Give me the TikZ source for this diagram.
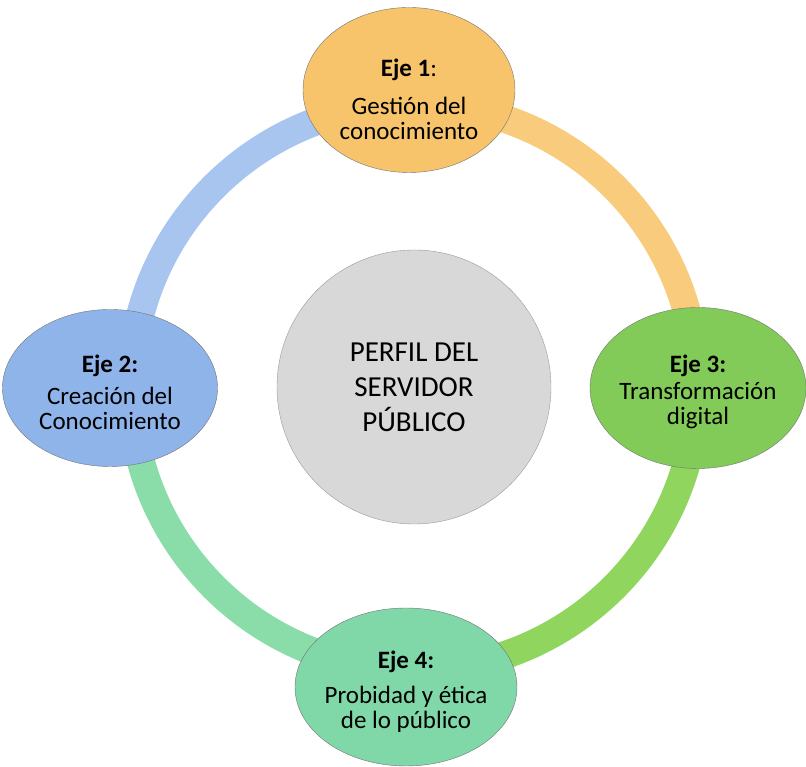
\documentclass[tikz,border=0pt]{standalone}
\usepackage{fontspec}
\setmainfont{Carlito}
\usetikzlibrary{shapes.geometric}
\usetikzlibrary{positioning}

\definecolor{ejeOrange}{HTML}{F7C46C}
\definecolor{ejeBlue}{HTML}{8FB4EA}
\definecolor{ejeGreen}{HTML}{82CB58}
\definecolor{ejeMint}{HTML}{80D8A9}
\definecolor{hubGrey}{HTML}{D9D8D8}
\definecolor{arcOrange}{HTML}{F8CC7C}
\definecolor{arcBlue}{HTML}{A8C5EF}
\definecolor{arcGreen}{HTML}{90D65E}
\definecolor{arcMint}{HTML}{8ADDA8}

\tikzset {
  % thick coloured band of the ring
  ring path/.style = {
    line width = 28pt
  },
  % one axis of the profile
  eje node/.style = {
    ellipse,
    draw = black!55,
    inner xsep = -25pt,
    inner ysep = 0,
    align = center,
    text = black,
    font = \fontsize{25}{25}\selectfont
  },
  % centre of the ring
  hub node/.style = {
    circle,
    draw = black!40,
    fill = hubGrey,
    inner sep = 0,
    minimum size = 274pt,
    align = center,
    text = black,
    font = \fontsize{29}{35}\selectfont
  }
}

\newcommand{\ejehead}[1]{\textbf{Eje #1}}

\begin{document}
\begin{tikzpicture}[x=1pt, y=1pt]
    \useasboundingbox (0,0) rectangle (806,767);

    \node[hub node] (hub) at (414,380) {PERFIL DEL\\SERVIDOR\\PÚBLICO};

    % ring segments, drawn below the ellipses
    \draw[ring path, draw=arcOrange] ([shift={(0:283)}]hub.center) arc[start angle=0, end angle=90, radius=283];
    \draw[ring path, draw=arcBlue] ([shift={(90:283)}]hub.center) arc[start angle=90, end angle=180, radius=283];
    \draw[ring path, draw=arcMint] ([shift={(180:283)}]hub.center) arc[start angle=180, end angle=270, radius=283];
    \draw[ring path, draw=arcGreen] ([shift={(270:283)}]hub.center) arc[start angle=270, end angle=360, radius=283];

    \node[eje node, fill=ejeOrange, minimum width=212pt, minimum height=165pt] (eje1) at (409,677)
      {\rule{0pt}{36pt}\ejehead{1}:\\[13pt]Gestión del\\conocimiento};
    \node[eje node, fill=ejeBlue, minimum width=215pt, minimum height=157pt] (eje2) at (110,379)
      {\rule{0pt}{26pt}\ejehead{2:}\\[7pt]Creación del\\Conocimiento};
    \node[eje node, fill=ejeGreen, minimum width=216pt, minimum height=161pt] (eje3) at (698,379)
      {\rule{0pt}{26pt}\ejehead{3:}\\[2pt]Transformación\\digital};
    \node[eje node, fill=ejeMint, minimum width=222pt, minimum height=158pt] (eje4) at (406,80)
      {\rule{0pt}{28pt}\ejehead{4:}\\[10pt]Probidad y ética\\de lo público};

  \end{tikzpicture}
\end{document}
